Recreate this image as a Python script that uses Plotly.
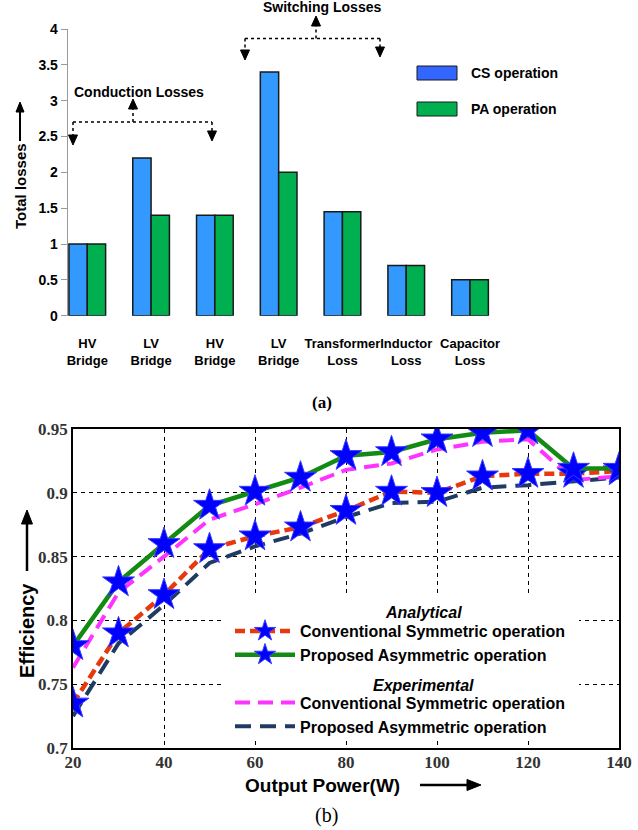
import plotly.graph_objects as go

W, H = 638, 830

# ---- (a) loss breakdown ----
loss_labels = ["HV<br>Bridge", "LV<br>Bridge", "HV<br>Bridge", "LV<br>Bridge",
               "Transformer<br>Loss", "Inductor<br>Loss", "Capacitor<br>Loss"]
cs_losses = [1.0, 2.2, 1.4, 3.4, 1.45, 0.7, 0.5]
pa_losses = [1.0, 1.4, 1.4, 2.0, 1.45, 0.7, 0.5]
loss_ticks = [0, 0.5, 1, 1.5, 2, 2.5, 3, 3.5, 4]

# ---- (b) efficiency vs output power ----
power_w = [20, 30, 40, 50, 60, 70, 80, 90, 100, 110, 120, 130, 140]
eff_ana_sym = [0.735, 0.790, 0.820, 0.856, 0.866, 0.873, 0.886, 0.901, 0.900, 0.913, 0.915, 0.915, 0.917]
eff_ana_asym = [0.780, 0.830, 0.860, 0.890, 0.901, 0.912, 0.929, 0.932, 0.942, 0.947, 0.949, 0.919, 0.919]
eff_exp_sym = [0.763, 0.822, 0.850, 0.879, 0.891, 0.904, 0.918, 0.923, 0.934, 0.940, 0.942, 0.910, 0.913]
eff_exp_asym = [0.725, 0.782, 0.812, 0.845, 0.858, 0.868, 0.881, 0.892, 0.893, 0.904, 0.906, 0.909, 0.912]
power_ticks = [20, 40, 60, 80, 100, 120, 140]
eff_ticks = [0.7, 0.75, 0.8, 0.85, 0.9, 0.95]


def fx(px):
    return px / W


def fy(py):
    return 1 - py / H


ARIAL = "Arial, Liberation Sans, sans-serif"
TIMES = "Times New Roman, Liberation Serif, serif"

CS_BLUE = "#3399FF"
PA_GREEN = "#00B050"

fig = go.Figure()

xpos = list(range(len(loss_labels)))
fig.add_trace(go.Bar(x=xpos, y=cs_losses, name="CS operation", marker_color=CS_BLUE,
                     marker_line=dict(color="#1a1a1a", width=1.5), showlegend=False,
                     xaxis="x", yaxis="y"))
fig.add_trace(go.Bar(x=xpos, y=pa_losses, name="PA operation", marker_color=PA_GREEN,
                     marker_line=dict(color="#1a1a1a", width=1.5), showlegend=False,
                     xaxis="x", yaxis="y"))

star = dict(symbol="star", size=24, color="#0000FF", line=dict(color="#3a3aff", width=1))

fig.add_trace(go.Scatter(x=power_w, y=eff_exp_asym, mode="lines",
                         name="Proposed Asymmetric operation",
                         line=dict(color="#1F3B63", width=4, dash="16px,9px"),
                         legendgroup="exp", legendrank=4, legend="legend2",
                         xaxis="x2", yaxis="y2"))
fig.add_trace(go.Scatter(x=power_w, y=eff_exp_sym, mode="lines",
                         name="Conventional Symmetric operation",
                         line=dict(color="#FF33FF", width=4, dash="15px,8px"),
                         legendgroup="exp", legendrank=3, legend="legend2",
                         xaxis="x2", yaxis="y2"))
fig.add_trace(go.Scatter(x=power_w, y=eff_ana_sym, mode="lines+markers",
                         name="Conventional Symmetric operation",
                         line=dict(color="#E8380D", width=4.5, dash="10px,5px"),
                         marker=star, legendgroup="ana", legendrank=1, legend="legend2",
                         xaxis="x2", yaxis="y2"))
fig.add_trace(go.Scatter(x=power_w, y=eff_ana_asym, mode="lines+markers",
                         name="Proposed Asymmetric operation",
                         line=dict(color="#138A13", width=4.5),
                         marker=star, legendgroup="ana", legendrank=2, legend="legend2",
                         xaxis="x2", yaxis="y2"))

shapes = []
annotations = []


def line(x0, y0, x1, y1, dash="solid", width=1.5, color="black", layer="above"):
    shapes.append(dict(type="line", xref="paper", yref="paper",
                       x0=fx(x0), y0=fy(y0), x1=fx(x1), y1=fy(y1), layer=layer,
                       line=dict(color=color, width=width, dash=dash)))


def head(x, y, direction, w=9, h=10):
    if direction == "down":
        pts = [(x, y), (x - w / 2, y - h), (x + w / 2, y - h)]
    elif direction == "up":
        pts = [(x, y), (x - w / 2, y + h), (x + w / 2, y + h)]
    else:  # right
        pts = [(x, y), (x - h, y - w / 2), (x - h, y + w / 2)]
    path = "M" + " L".join(f"{fx(a):.5f},{fy(b):.5f}" for a, b in pts) + " Z"
    shapes.append(dict(type="path", xref="paper", yref="paper", path=path,
                       fillcolor="black", line=dict(color="black", width=1)))


def text(x, y, s, size, font=ARIAL, weight="bold", style="normal", angle=0,
         xanchor="center", color="black"):
    annotations.append(dict(x=fx(x), y=fy(y), xref="paper", yref="paper", text=s,
                            showarrow=False, xanchor=xanchor, yanchor="middle",
                            textangle=angle,
                            font=dict(family=font, size=size, color=color,
                                      weight=weight, style=style)))


# dotted brackets over the bar groups
line(73, 122, 212, 122, dash="dot")
line(73, 122, 73, 136, dash="dot")
line(212, 122, 212, 132, dash="dot")
line(133, 122, 133, 109, dash="dot")
head(73, 145, "down")
head(212, 141, "down")
head(133, 99, "up")
text(139, 92, "Conduction Losses", 14)

line(245, 38.5, 380, 38.5, dash="dot")
line(245, 38.5, 245, 51, dash="dot")
line(380, 38.5, 380, 48, dash="dot")
line(316, 38.5, 316, 26, dash="dot")
head(245, 60, "down")
head(380, 57, "down")
head(316, 16, "up")
text(322, 7, "Switching Losses", 14)

# legend of (a)
for (y0, col, name) in [(66, "#3366FF", "CS operation"), (102, PA_GREEN, "PA operation")]:
    shapes.append(dict(type="rect", xref="paper", yref="paper",
                       x0=fx(417), x1=fx(457), y0=fy(y0), y1=fy(y0 + 14),
                       fillcolor=col, line=dict(color="#1a1a1a", width=1)))
    text(469, y0 + 7, name, 14, xanchor="left")

# axis titles of (a)
text(20, 186, "Total losses", 15, angle=-90)
line(20, 141, 20, 110, width=2)
head(20, 102, "up", w=8, h=10)
text(322, 402, "(a)", 17, font=TIMES)

# axis titles of (b)
text(27, 631, "Efficiency", 20, angle=-90)
line(27, 571, 27, 522, width=2.5)
head(27, 510, "up", w=11, h=14)
text(322, 785, "Output Power(W)", 19)
line(420, 785, 468, 785, width=2.5)
head(481, 785, "right", w=11, h=14)
text(326, 815, "(b)", 20, font=TIMES, weight="normal")

# white panel behind the legend of (b)
shapes.append(dict(type="rect", xref="paper", yref="paper", layer="above",
                   x0=fx(221), x1=fx(579), y0=fy(737), y1=fy(597),
                   fillcolor="white", line=dict(width=0)))
text(423, 612, "Analytical", 16, style="italic")
text(423, 685, "Experimental", 16, style="italic")

fig.update_layout(
    width=W, height=H,
    margin=dict(l=0, r=0, t=0, b=0, autoexpand=False),
    paper_bgcolor="white", plot_bgcolor="white",
    barmode="group", bargap=0.425, bargroupgap=0,
    xaxis=dict(domain=[fx(67.7), fx(490)], range=[-0.307, 6.313], automargin=False,
               tickvals=xpos, ticktext=loss_labels, tickangle=0,
               showline=False, showgrid=False,
               zeroline=False, ticks="outside", ticklen=16, tickcolor="rgba(0,0,0,0)",
               tickfont=dict(family=ARIAL, size=13, color="black", weight="bold"),
               anchor="y"),
    yaxis=dict(domain=[fy(315.7), fy(29)], range=[0, 4], tickvals=loss_ticks,
               automargin=False,
               showline=True, linecolor="#9a9a9a", linewidth=1, ticks="outside",
               ticklen=6, tickcolor="#9a9a9a", showgrid=False, zeroline=False,
               tickfont=dict(family=ARIAL, size=14, color="black", weight="bold"),
               anchor="x"),
    xaxis2=dict(domain=[fx(73), fx(619)], range=[20, 140], tickvals=power_ticks,
                automargin=False, ticklabelstandoff=-2,
                showline=True, mirror=True, linecolor="black", linewidth=1.5,
                showgrid=True, gridcolor="black", gridwidth=1, griddash="4px,4px",
                zeroline=False, ticks="",
                tickfont=dict(family=TIMES, size=17, color="#333", weight="bold"),
                anchor="y2"),
    yaxis2=dict(domain=[fy(748), fy(429)], range=[0.7, 0.95], tickvals=eff_ticks,
                tickformat=".2~f", automargin=False,
                showline=True, mirror=True, linecolor="black", linewidth=1.5,
                showgrid=True, gridcolor="black", gridwidth=1, griddash="4px,4px",
                zeroline=False, ticks="",
                tickfont=dict(family=TIMES, size=17, color="#333", weight="bold"),
                anchor="x2"),
    legend2=dict(x=fx(230), y=fy(614), xanchor="left", yanchor="top",
                 bgcolor="rgba(0,0,0,0)", borderwidth=0, traceorder="grouped",
                 tracegroupgap=24, itemwidth=60,
                 font=dict(family=ARIAL, size=16, color="black", weight="bold")),
    shapes=shapes, annotations=annotations,
)

fig.write_html("out.html")
